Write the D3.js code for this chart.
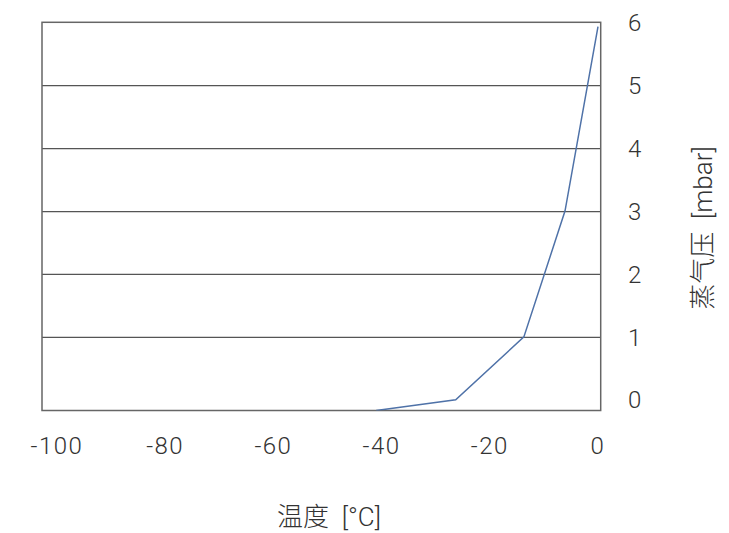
<!DOCTYPE html>
<html>
<head>
<meta charset="utf-8">
<script src="https://cdn.jsdelivr.net/npm/d3@7"></script>
<style>
  body { margin: 0; background: #fff; }
  svg text { font-family: Roboto, "Noto Sans CJK SC", sans-serif; font-weight: 300; fill: #333; white-space: pre; }
  .tick-label { font-size: 24px; letter-spacing: 1.5px; }
  .title { font-size: 26px; }
  .grid line { stroke: #555; stroke-width: 1.3; }
  .grid path { display: none; }
</style>
</head>
<body>
<svg id="chart" width="729" height="533"></svg>
<script>
// data
var temps = [-41, -26.3, -13.7, -6.1, 0];        // °C
var pressures = [-0.17, 0, 1, 3, 5.93];          // mbar
var xTicks = [-100, -80, -60, -40, -20, 0];
var yTicks = [0, 1, 2, 3, 4, 5, 6];
var xTitle = "温度  [°C]";
var yTitle = "蒸气压  [mbar]";

var svg = d3.select("#chart");
var plotLeft = 42, plotRight = 600.7, plotTop = 22.3, plotBottom = 410.5;

var x = d3.scaleLinear().domain([-102.77, 0.5]).range([plotLeft, plotRight]);
var y = d3.scaleLinear().domain([-0.17, 6]).range([plotBottom, plotTop]);

// horizontal gridlines
svg.append("g")
    .attr("class", "grid")
    .attr("transform", "translate(" + plotLeft + ",0)")
    .call(d3.axisLeft(y).tickValues([1, 2, 3, 4, 5]).tickSize(-(plotRight - plotLeft)).tickFormat(""));

// plot frame
svg.append("rect")
    .attr("x", plotLeft)
    .attr("y", plotTop)
    .attr("width", plotRight - plotLeft)
    .attr("height", plotBottom - plotTop)
    .attr("fill", "none")
    .attr("stroke", "#666")
    .attr("stroke-width", 1.5);

svg.append("defs").append("clipPath")
    .attr("id", "clip")
    .append("rect")
    .attr("x", plotLeft)
    .attr("y", plotTop)
    .attr("width", plotRight - plotLeft)
    .attr("height", plotBottom - plotTop);

var points = temps.map(function(t, i) { return [t, pressures[i]]; });

svg.append("path")
    .datum(points)
    .attr("clip-path", "url(#clip)")
    .attr("fill", "none")
    .attr("stroke", "#4f72a8")
    .attr("stroke-width", 1.5)
    .attr("d", d3.line()
        .x(function(d) { return x(d[0]); })
        .y(function(d) { return y(d[1]); }));

// x tick labels
svg.append("g")
    .selectAll("text")
    .data(xTicks)
    .enter()
    .append("text")
    .classed("tick-label", true)
    .attr("x", function(d) { return x(d); })
    .attr("y", 454)
    .attr("text-anchor", "middle")
    .text(function(d) { return d; });

// y tick labels (right side)
svg.append("g")
    .selectAll("text")
    .data(yTicks)
    .enter()
    .append("text")
    .classed("tick-label", true)
    .attr("x", 628)
    .attr("y", function(d) { return y(d); })
    .attr("dy", "0.36em")
    .attr("text-anchor", "start")
    .text(function(d) { return d; });

// axis titles
svg.append("text")
    .classed("title", true)
    .attr("x", 329)
    .attr("y", 526)
    .attr("text-anchor", "middle")
    .text(xTitle);

svg.append("text")
    .classed("title", true)
    .attr("transform", "translate(712,228) rotate(-90)")
    .attr("text-anchor", "middle")
    .text(yTitle);
</script>
</body>
</html>
